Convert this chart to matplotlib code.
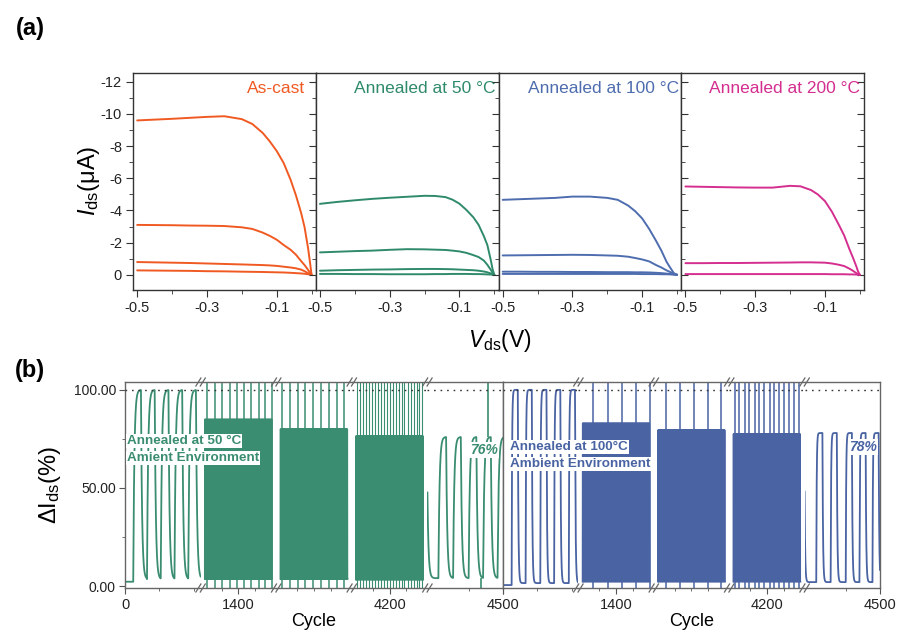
import numpy as np
from matplotlib import pyplot as plt
from matplotlib.lines import Line2D

plt.rcParams['font.family'] = ['Liberation Sans', 'DejaVu Sans']
plt.rcParams['axes.unicode_minus'] = False
plt.rcParams['mathtext.fontset'] = 'custom'
plt.rcParams['mathtext.rm'] = 'Liberation Sans'
plt.rcParams['mathtext.it'] = 'Liberation Sans:italic'
plt.rcParams['mathtext.bf'] = 'Liberation Sans:bold'

# ---------------- (a) output curves, Ids (uA) on a shared Vds grid (V)
vds = [-0.5, -0.45, -0.4, -0.35, -0.3, -0.25, -0.2, -0.17, -0.14, -0.12,
       -0.1, -0.08, -0.06, -0.045, -0.03, -0.02, -0.01, -0.005, 0.0]

ids_ascast = [
    [-9.60, -9.65, -9.70, -9.76, -9.82, -9.86, -9.68, -9.38, -8.82, -8.30,
     -7.70, -6.95, -5.90, -4.95, -3.85, -2.95, -1.65, -0.85, 0.0],
    [-3.10, -3.09, -3.08, -3.06, -3.05, -3.03, -2.95, -2.85, -2.62, -2.42,
     -2.18, -1.85, -1.55, -1.25, -0.85, -0.60, -0.30, -0.15, 0.0],
    [-0.79, -0.77, -0.75, -0.73, -0.70, -0.67, -0.64, -0.62, -0.60, -0.58,
     -0.55, -0.50, -0.45, -0.40, -0.32, -0.22, -0.10, -0.05, 0.0],
    [-0.27, -0.26, -0.25, -0.24, -0.22, -0.21, -0.19, -0.18, -0.17, -0.16,
     -0.15, -0.14, -0.12, -0.10, -0.08, -0.06, -0.03, -0.02, 0.0],
]
ids_50 = [
    [-4.41, -4.53, -4.63, -4.72, -4.79, -4.85, -4.91, -4.90, -4.83, -4.67,
     -4.42, -4.03, -3.57, -3.10, -2.40, -1.85, -0.90, -0.35, 0.0],
    [-1.39, -1.43, -1.47, -1.50, -1.55, -1.59, -1.58, -1.56, -1.54, -1.50,
     -1.45, -1.36, -1.22, -1.10, -0.88, -0.62, -0.30, -0.12, 0.0],
    [-0.25, -0.28, -0.30, -0.32, -0.33, -0.35, -0.36, -0.36, -0.35, -0.34,
     -0.32, -0.30, -0.28, -0.25, -0.20, -0.15, -0.08, -0.04, 0.0],
    [-0.05, -0.05, -0.04, -0.04, -0.03, -0.03, -0.03, -0.04, -0.04, -0.05,
     -0.05, -0.05, -0.04, -0.04, -0.03, -0.02, -0.01, 0.0, 0.0],
]
ids_100 = [
    [-4.66, -4.70, -4.74, -4.78, -4.86, -4.86, -4.78, -4.66, -4.30, -3.95,
     -3.50, -2.85, -2.10, -1.50, -0.80, -0.45, -0.12, -0.04, 0.0],
    [-1.20, -1.21, -1.22, -1.23, -1.24, -1.23, -1.20, -1.18, -1.12, -1.04,
     -0.95, -0.83, -0.60, -0.45, -0.27, -0.17, -0.06, -0.02, 0.0],
    [-0.19, -0.19, -0.18, -0.18, -0.17, -0.17, -0.16, -0.16, -0.16, -0.15,
     -0.15, -0.14, -0.12, -0.10, -0.07, -0.05, -0.02, -0.01, 0.0],
    [-0.05, -0.05, -0.05, -0.05, -0.05, -0.05, -0.05, -0.05, -0.05, -0.05,
     -0.04, -0.04, -0.04, -0.03, -0.03, -0.02, -0.01, 0.0, 0.0],
]
ids_200 = [
    [-5.49, -5.47, -5.45, -5.43, -5.42, -5.42, -5.53, -5.50, -5.27, -4.99,
     -4.58, -3.92, -3.10, -2.45, -1.60, -1.08, -0.52, -0.20, 0.0],
    [-0.72, -0.72, -0.73, -0.73, -0.74, -0.75, -0.76, -0.77, -0.77, -0.76,
     -0.75, -0.70, -0.62, -0.54, -0.38, -0.25, -0.10, -0.04, 0.0],
    [-0.04, -0.04, -0.04, -0.04, -0.04, -0.04, -0.04, -0.04, -0.04, -0.04,
     -0.04, -0.03, -0.03, -0.03, -0.02, -0.02, -0.01, 0.0, 0.0],
]

a_titles = ['As-cast', 'Annealed at 50 °C', 'Annealed at 100 °C', 'Annealed at 200 °C']
a_colors = ['#F05A22', '#2F8A6C', '#4E6DAE', '#D42E8F']
a_curves = [ids_ascast, ids_50, ids_100, ids_200]

# ---------------- (b) switching cycles, broken cycle axis (5 windows per run)
windows = [(0, 5.5), (1344, 1456), (2744, 2856), (4144, 4256), (4494.5, 4500)]
dense_cycles = [None, (1350, 1450), (2750, 2850), (4150, 4250), None]
major_ticks = [[0], [1400], [], [4200], [4500]]
minor_ticks = [[2.5, 5], [1375, 1425], [2775, 2800, 2825], [4175, 4225], [4497.5]]

# annealed at 50 °C
on50_first = [0.6, 1.6, 2.6, 3.6, 4.6]
on50_last = [4493.9, 4495.3, 4496.37, 4497.5, 4498.55, 4499.6]
level50 = [100.0, 85.0, 80.0, 76.5, 76.0]
floor50 = [3.5, 3.6, 3.6, 3.2, 4.0]
start50 = 2.2
spikes50 = [[],
            [1354, 1365, 1376, 1387, 1398, 1409, 1419, 1430, 1440, 1450],
            [2753, 2764, 2776, 2786, 2798, 2810, 2822, 2834, 2844],
            [4152, 4156, 4161, 4165, 4170, 4174, 4178, 4183, 4187, 4192, 4196, 4200,
             4205, 4209, 4214, 4218, 4222, 4227, 4231, 4236, 4240, 4244, 4248],
            [4498.94]]
dips50 = [4498.43]

# annealed at 100 °C
on100_first = [0.63, 1.65, 2.72, 3.73, 4.8]
on100_last = [4494.03, 4495.35, 4496.4, 4497.5, 4498.5, 4499.45]
level100 = [100.0, 83.0, 79.5, 77.5, 78.0]
floor100 = [1.5, 2.2, 2.2, 2.2, 2.0]
start100 = 0.5
spikes100 = [[],
             [1366, 1388, 1409, 1430, 1451],
             [2762, 2783, 2803, 2824, 2844],
             [4152, 4159, 4167, 4174, 4182, 4189, 4196, 4204, 4211, 4218, 4226,
              4233, 4240, 4248],
             []]
dips100 = []

W, H = 898, 633
fig = plt.figure(figsize=(W / 100, H / 100), dpi=100)


def box(x0, y0, x1, y1):
    # pixel rectangle (origin top-left) -> figure fraction
    return [x0 / W, 1 - y1 / H, (x1 - x0) / W, (y1 - y0) / H]


def pulse_trace(rises, width, hi, lo, t0, t1, tau_r, tau_f, base, n):
    t = np.linspace(t0, t1, n)
    y = np.full(n, float(base))
    for r in rises:
        up = (t >= r) & (t < r + width)
        y[up] = lo + (hi - lo) * (1 - np.exp(-(t[up] - r) / tau_r))
        down = t >= r + width
        y[down] = lo + (hi - lo) * np.exp(-(t[down] - r - width) / tau_f)
    return t, y


# ---- panel (a)
title_x = [0.94, 0.985, 0.99, 0.978]
pw = (864 - 133) / 4
for k in range(4):
    x0 = 133 + k * pw
    ax = fig.add_axes(box(x0, 73, x0 + pw, 290))
    for ids in a_curves[k]:
        ax.plot(vds, ids, color=a_colors[k], lw=1.4, solid_capstyle='round')
    ax.set_xlim(-0.512, 0.012)
    ax.set_ylim(0.95, -12.55)
    ax.set_xticks([-0.5, -0.3, -0.1])
    ax.set_xticklabels(['-0.5', '-0.3', '-0.1'])
    ax.set_xticks([-0.4, -0.2, 0.0], minor=True)
    ax.set_yticks(list(range(-12, 1, 2)))
    ax.set_yticklabels([str(v) for v in range(-12, 1, 2)])
    ax.set_yticks(list(range(-12, 1)), minor=True)
    for s in ax.spines.values():
        s.set_color('#333333')
        s.set_linewidth(1.0)
    ax.tick_params(axis='x', which='both', direction='out', colors='#333333',
                   labelsize=10.5, labelcolor='#222222', pad=3)
    ax.tick_params(axis='x', which='major', length=5)
    ax.tick_params(axis='x', which='minor', length=3)
    ydir = 'in' if k == 3 else 'out'
    ax.tick_params(axis='y', which='both', direction=ydir, colors='#333333',
                   labelsize=10.5, labelcolor='#222222', right=(k == 3),
                   labelleft=(k == 0), pad=3)
    ax.tick_params(axis='y', which='major', length=5)
    ax.tick_params(axis='y', which='minor', length=3)
    ax.text(title_x[k], 0.93, a_titles[k], transform=ax.transAxes, ha='right',
            va='center', color=a_colors[k], fontsize=12.5)

fig.text(89 / W, 1 - 181 / H, r'$I_{\mathrm{ds}}$(μA)', rotation=90,
         ha='center', va='center', fontsize=17)
fig.text(500 / W, 1 - 340 / H, r'$V_{\mathrm{ds}}$(V)', ha='center',
         va='center', fontsize=16.5)
fig.text(30 / W, 1 - 29 / H, '(a)', ha='center', va='center',
         fontsize=17, fontweight='bold')
fig.text(30 / W, 1 - 370 / H, '(b)', ha='center', va='center',
         fontsize=17, fontweight='bold')

# ---- panel (b)
runs = [
    dict(x0=125, x1=503, color='#3A8D70', first=on50_first, last=on50_last,
         width=0.56, levels=level50, floors=floor50, start=start50,
         spikes=spikes50, dips=dips50, tau=(0.08, 0.08), ylabels=True,
         zero_label='0'),
    dict(x0=503, x1=880, color='#4963A3', first=on100_first, last=on100_last,
         width=0.45, levels=level100, floors=floor100, start=start100,
         spikes=spikes100, dips=dips100, tau=(0.03, 0.04), ylabels=False,
         zero_label=''),
]
top_px, bot_px = 382, 588
for run in runs:
    sw = (run['x1'] - run['x0']) / 5
    c = run['color']
    for k in range(5):
        xa = run['x0'] + k * sw
        ax = fig.add_axes(box(xa, top_px, xa + sw, bot_px))
        t0, t1 = windows[k]
        if dense_cycles[k] is None:
            rises = run['first'] if k == 0 else run['last']
            base = run['start'] if k == 0 else run['floors'][k]
            t, y = pulse_trace(rises, run['width'], run['levels'][k], run['floors'][k],
                               t0, t1, run['tau'][0], run['tau'][1], base, 2500)
            ax.plot(t, y, color=c, lw=1.3)
        else:
            d0, d1 = dense_cycles[k]
            rises = np.arange(d0, d1)
            t, y = pulse_trace(rises, 0.5, run['levels'][k], run['floors'][k],
                               d0, d1, 0.02, 0.02, run['floors'][k], (d1 - d0) * 24)
            ax.plot(t, y, color=c, lw=1.0)
        if k == 4:
            if run['spikes'][k]:
                ax.vlines(run['spikes'][k], run['levels'][k], 110, color=c, lw=1.2)
            if run['dips']:
                ax.vlines(run['dips'], -2, run['floors'][k], color=c, lw=1.2)
        elif run['spikes'][k]:
            ax.vlines(run['spikes'][k], -2, 110, color=c,
                      lw=0.8 if len(run['spikes'][k]) > 15 else 1.1)
        ax.axhline(100, color='#333333', lw=1.0, ls=(0, (1.2, 3.5)), zorder=3)
        ax.set_xlim(t0, t1)
        ax.set_ylim(-1, 104)

        for name, s in ax.spines.items():
            s.set_color('#666666')
            s.set_linewidth(1.0)
        ax.spines['left'].set_visible(k == 0)
        ax.spines['right'].set_visible(k == 4)

        ax.set_xticks(major_ticks[k])
        labels = [str(v) for v in major_ticks[k]]
        if k == 0:
            labels = [run['zero_label']]
        ax.set_xticklabels(labels)
        ax.set_xticks(minor_ticks[k], minor=True)
        ax.tick_params(axis='x', which='both', direction='out', colors='#555555',
                       labelsize=10.5, labelcolor='#222222', pad=3)
        ax.tick_params(axis='x', which='major', length=4.5)
        ax.tick_params(axis='x', which='minor', length=2.5)

        if k == 0 and run['ylabels']:
            ax.set_yticks([0, 50, 100])
            ax.set_yticklabels(['0.00', '50.00', '100.00'])
            ax.set_yticks([25, 75], minor=True)
            ax.tick_params(axis='y', which='both', direction='out', colors='#555555',
                           labelsize=10, labelcolor='#222222', pad=2)
            ax.tick_params(axis='y', which='major', length=4.5)
            ax.tick_params(axis='y', which='minor', length=2.5)
        else:
            ax.set_yticks([])

    # break marks on top and bottom frame
    for k in range(1, 5):
        xb = run['x0'] + k * sw
        for yb in (top_px, bot_px):
            for dx in (-2.2, 2.2):
                fig.add_artist(Line2D([(xb + dx - 2.5) / W, (xb + dx + 2.5) / W],
                                      [1 - (yb + 4) / H, 1 - (yb - 4) / H],
                                      color='#666666', lw=0.9))

    fig.text((run['x0'] + run['x1']) / 2 / W, 1 - 622 / H, 'Cycle',
             ha='center', va='center', fontsize=13)

tb = dict(facecolor='white', edgecolor='none', pad=0.6)
fig.text(127 / W, 1 - 441 / H, 'Annealed at 50 °C', color='#3A8D70', fontsize=9.7,
         fontweight='bold', ha='left', va='center', bbox=tb)
fig.text(127 / W, 1 - 458 / H, 'Amient Environment', color='#3A8D70', fontsize=9.7,
         fontweight='bold', ha='left', va='center', bbox=tb)
fig.text(484 / W, 1 - 450 / H, '76%', color='#3A8D70', fontsize=10,
         fontweight='bold', fontstyle='italic', ha='center', va='center', bbox=tb)
fig.text(510 / W, 1 - 447 / H, 'Annealed at 100°C', color='#4963A3', fontsize=9.7,
         fontweight='bold', ha='left', va='center', bbox=tb)
fig.text(510 / W, 1 - 464 / H, 'Ambient Environment', color='#4963A3', fontsize=9.7,
         fontweight='bold', ha='left', va='center', bbox=tb)
fig.text(863 / W, 1 - 447 / H, '78%', color='#4963A3', fontsize=10,
         fontweight='bold', fontstyle='italic', ha='center', va='center', bbox=tb)

fig.text(50 / W, 1 - 485 / H, r'ΔI$_{\mathrm{ds}}$(%)', rotation=90,
         ha='center', va='center', fontsize=17)

fig.savefig('out.png', dpi=100)
